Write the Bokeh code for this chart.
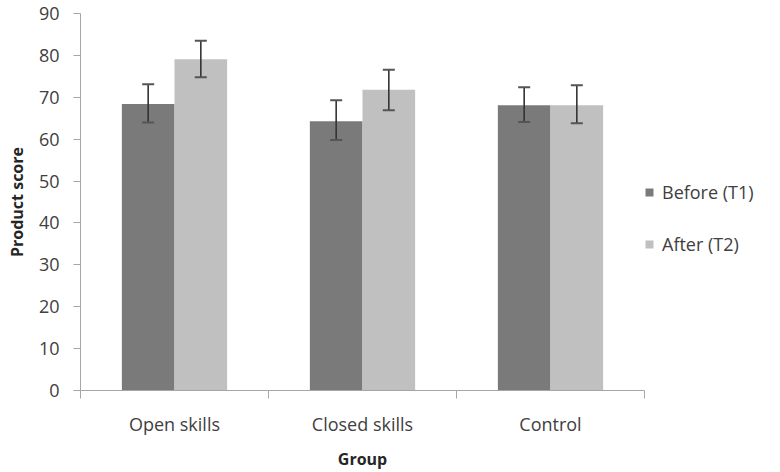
from bokeh.plotting import figure
from bokeh.models import (ColumnDataSource, Range1d, FixedTicker, Whisker, TeeHead,
                          Legend, LegendItem)
from bokeh.embed import file_html
from bokeh.resources import INLINE

groups = ["Open skills", "Closed skills", "Control"]
before = [68.4, 64.3, 68.1]
after = [79.1, 71.8, 68.1]
before_lo = [64.0, 59.8, 64.1]
before_hi = [73.1, 69.3, 72.4]
after_lo = [74.8, 66.9, 63.8]
after_hi = [83.5, 76.6, 72.9]
y_ticks = [0, 10, 20, 30, 40, 50, 60, 70, 80, 90]

FONT = "Open Sans"
TXT = "#404040"
AX = "#a6a6a6"
DARK = "#7a7a7a"
LIGHT = "#c0c0c0"

centers = [i + 0.5 for i in range(len(groups))]
off = 0.14
bw = 0.28

src_b = ColumnDataSource(dict(x=[c - off for c in centers], top=before, lo=before_lo, hi=before_hi))
src_a = ColumnDataSource(dict(x=[c + off for c in centers], top=after, lo=after_lo, hi=after_hi))

p = figure(frame_width=564, frame_height=377, output_backend="svg", toolbar_location=None,
           x_range=Range1d(0, len(groups)), y_range=Range1d(0, 90),
           min_border_left=80, min_border_right=0, min_border_top=13, min_border_bottom=70)
p.outline_line_color = None
p.xgrid.visible = False
p.ygrid.visible = False
p.background_fill_color = "white"
p.border_fill_color = "white"

rb = p.vbar(x="x", top="top", width=bw, bottom=0, source=src_b, fill_color=DARK, line_color=None)
ra = p.vbar(x="x", top="top", width=bw, bottom=0, source=src_a, fill_color=LIGHT, line_color=None)

for s in (src_b, src_a):
    w = Whisker(base="x", upper="hi", lower="lo", source=s, dimension="height",
                line_color="#333333", line_width=1.6, level="overlay",
                upper_head=TeeHead(size=12, line_color="#555555", line_width=2),
                lower_head=TeeHead(size=12, line_color="#555555", line_width=2))
    p.add_layout(w)

# x axis
xa = p.xaxis[0]
xa.ticker = FixedTicker(ticks=centers, minor_ticks=[float(i) for i in range(len(groups) + 1)])
xa.major_label_overrides = {c: g for c, g in zip(centers, groups)}
xa.major_tick_out = 0
xa.major_tick_in = 0
xa.minor_tick_out = 8
xa.minor_tick_in = 0
xa.minor_tick_line_color = AX
xa.axis_line_color = AX
xa.major_label_standoff = 13
xa.major_label_text_font = FONT
xa.major_label_text_font_size = "18px"
xa.major_label_text_color = TXT
xa.axis_label = "Group"
xa.axis_label_text_font = FONT
xa.axis_label_text_font_size = "16px"
xa.axis_label_text_font_style = "bold"
xa.axis_label_text_color = "#262626"
xa.axis_label_standoff = 9

# y axis
ya = p.yaxis[0]
ya.ticker = FixedTicker(ticks=y_ticks, minor_ticks=[])
ya.major_tick_out = 7
ya.major_tick_in = 0
ya.major_tick_line_color = AX
ya.axis_line_color = AX
ya.major_label_standoff = 14
ya.major_label_text_font = FONT
ya.major_label_text_font_size = "18px"
ya.major_label_text_color = TXT
ya.axis_label = "Product score"
ya.axis_label_text_font = FONT
ya.axis_label_text_font_size = "16px"
ya.axis_label_text_font_style = "bold"
ya.axis_label_text_color = "#262626"
ya.axis_label_standoff = 8

legend = Legend(items=[LegendItem(label="Before (T1)", renderers=[rb]),
                       LegendItem(label="After (T2)", renderers=[ra])],
                location=(0, 134), orientation="vertical",
                glyph_width=10, glyph_height=10, label_standoff=8, spacing=28,
                padding=5, margin=8, border_line_color=None, background_fill_alpha=0,
                label_text_font=FONT, label_text_font_size="18px", label_text_color=TXT)
p.add_layout(legend, "right")

open("out.html", "w").write(file_html(p, INLINE))
